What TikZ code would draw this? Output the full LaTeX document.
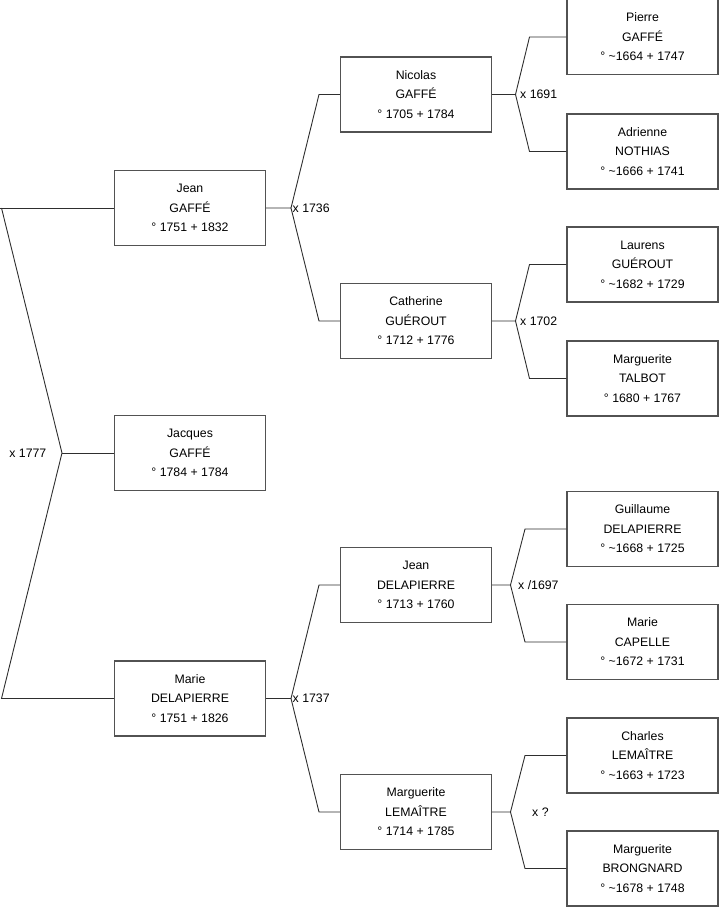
\documentclass[tikz,border=0pt]{standalone}
\usepackage{fontspec}
\setmainfont{Liberation Sans}
\begin{document}
\begin{tikzpicture}[x=1pt,y=-1pt,
  person/.style={draw=black!68, line width=1.2pt, fill=white, minimum width=151pt, minimum height=75pt,
    inner sep=0pt, align=center, font=\fontsize{12.3}{19.5}\selectfont},
  link/.style={draw=black!82, line width=0.9pt},
  marr/.style={inner xsep=1.5pt, inner ysep=0pt, anchor=west, font=\fontsize{12.3}{14}\selectfont}]
\useasboundingbox (0,0) rectangle (719,908);
% persons
\node[person] (jean) at (190,208) {Jean\\GAFFÉ\\° 1751 + 1832};
\node[person] (jacques) at (190,453) {Jacques\\GAFFÉ\\° 1784 + 1784};
\node[person] (marie) at (190,698.5) {Marie\\DELAPIERRE\\° 1751 + 1826};
\node[person] (nicolas) at (416,94.5) {Nicolas\\GAFFÉ\\° 1705 + 1784};
\node[person] (catherine) at (416,321) {Catherine\\GUÉROUT\\° 1712 + 1776};
\node[person] (jeand) at (416,585) {Jean\\DELAPIERRE\\° 1713 + 1760};
\node[person] (margl) at (416,812) {Marguerite\\LEMAÎTRE\\° 1714 + 1785};
\node[person] (pierre) at (642.5,37) {Pierre\\GAFFÉ\\° \textasciitilde1664 + 1747};
\node[person] (adrienne) at (642.5,151.5) {Adrienne\\NOTHIAS\\° \textasciitilde1666 + 1741};
\node[person] (laurens) at (642.5,264.5) {Laurens\\GUÉROUT\\° \textasciitilde1682 + 1729};
\node[person] (talbot) at (642.5,378.5) {Marguerite\\TALBOT\\° 1680 + 1767};
\node[person] (guillaume) at (642.5,529) {Guillaume\\DELAPIERRE\\° \textasciitilde1668 + 1725};
\node[person] (capelle) at (642.5,642) {Marie\\CAPELLE\\° \textasciitilde1672 + 1731};
\node[person] (charles) at (642.5,755.5) {Charles\\LEMAÎTRE\\° \textasciitilde1663 + 1723};
\node[person] (brongnard) at (642.5,868.5) {Marguerite\\BRONGNARD\\° \textasciitilde1678 + 1748};
% junction points
\coordinate (r0) at (62,453);
\coordinate (ra) at (1.5,208);
\coordinate (rb) at (1.5,698.5);
\coordinate (j1) at (291,208);
\coordinate (j1a) at (319,94.5);
\coordinate (j1b) at (319,321);
\coordinate (j2) at (291,698.5);
\coordinate (j2a) at (319,585);
\coordinate (j2b) at (319,812);
\coordinate (k1) at (515.5,94.5);
\coordinate (k1a) at (529.5,37);
\coordinate (k1b) at (529.5,151.5);
\coordinate (k2) at (515.5,321);
\coordinate (k2a) at (529.5,264.5);
\coordinate (k2b) at (529.5,378.5);
\coordinate (k3) at (510.5,585);
\coordinate (k3a) at (525,529);
\coordinate (k3b) at (525,642);
\coordinate (k4) at (510.5,812);
\coordinate (k4a) at (525,755.5);
\coordinate (k4b) at (525,868.5);
\coordinate (ledge) at (0,208);
% connectors
\draw[link] (ledge) -- (jean.west);
\draw[link] (ra) -- (r0) -- (rb) -- (marie.west);
\draw[link] (r0) -- (jacques.west);
\draw[link] (jean.east) -- (j1) (nicolas.west) -- (j1a) -- (j1) -- (j1b) -- (catherine.west);
\draw[link] (marie.east) -- (j2) (jeand.west) -- (j2a) -- (j2) -- (j2b) -- (margl.west);
\draw[link] (nicolas.east) -- (k1) (pierre.west) -- (k1a) -- (k1) -- (k1b) -- (adrienne.west);
\draw[link] (catherine.east) -- (k2) (laurens.west) -- (k2a) -- (k2) -- (k2b) -- (talbot.west);
\draw[link] (jeand.east) -- (k3) (guillaume.west) -- (k3a) -- (k3) -- (k3b) -- (capelle.west);
\draw[link] (margl.east) -- (k4) (charles.west) -- (k4a) -- (k4) -- (k4b) -- (brongnard.west);
% marriage labels
\node[marr, anchor=east] (m0) at ([xshift=-14pt]r0) {x 1777};
\node[marr] (m1) at (j1) {x 1736};
\node[marr] (m2) at (j2) {x 1737};
\node[marr] (m3) at ([xshift=3pt]k1) {x 1691};
\node[marr] (m4) at ([xshift=3pt]k2) {x 1702};
\node[marr] (m5) at ([xshift=6pt]k3) {x /1697};
\node[marr] (m6) at ([xshift=20pt]k4) {x ?};
\end{tikzpicture}
\end{document}
